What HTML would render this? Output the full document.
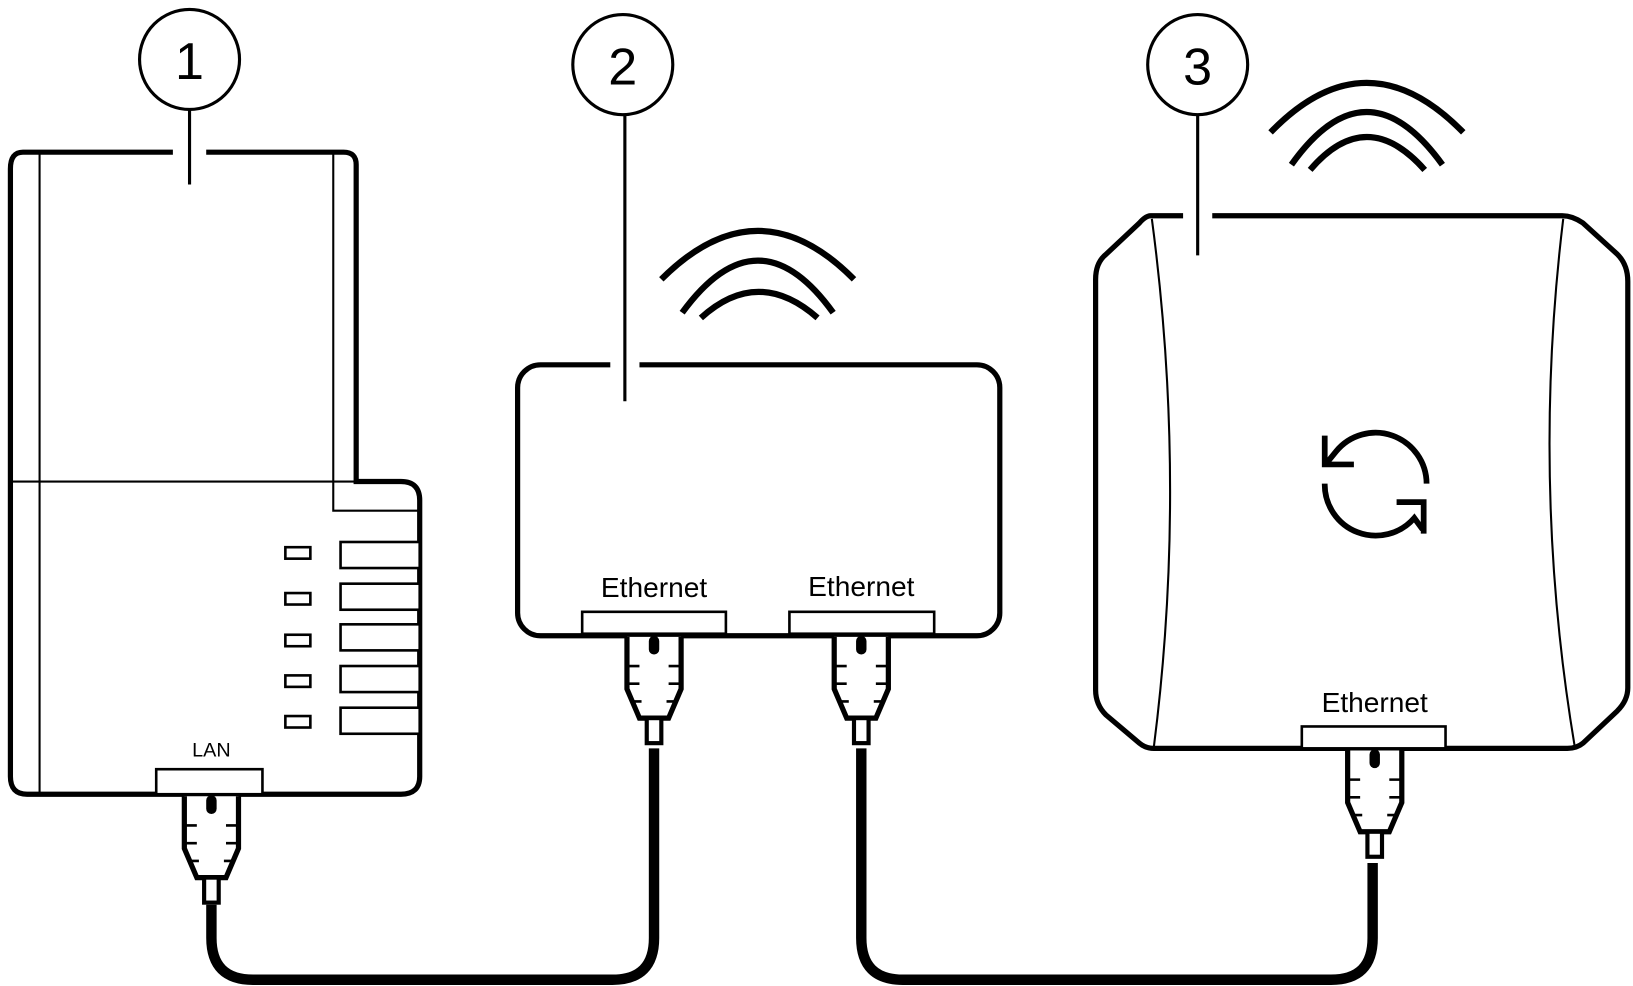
<!DOCTYPE html>
<html><head><meta charset="utf-8"><style>
html,body{margin:0;padding:0;background:#fff;}
svg{display:block;}
text{font-family:"Liberation Sans",sans-serif;fill:#000;}
</style></head><body>
<svg width="1633" height="986" viewBox="0 0 1568 946" preserveAspectRatio="none" xmlns="http://www.w3.org/2000/svg">
<defs>
<g id="plug" fill="none" stroke="#000">
  <path d="M-26 0 V50 L-14 78 H14 L26 50 V0" stroke-width="5" fill="#fff"/>
  <path d="M0 4 V12" stroke-width="10" stroke-linecap="round"/>
  <path d="M-26 28 H-14 M14 28 H26 M-26 45 H-14 M14 45 H26 M-22 62 H-12 M12 62 H22" stroke-width="2.5"/>
  <rect x="-7" y="78" width="14" height="24" stroke-width="4" fill="#fff"/>
</g>
</defs>
<rect width="1568" height="946" fill="#fff"/>

<!-- cables -->
<path d="M203 868 V900 Q203 940 243 940 H588 Q628 940 628 900 V718" fill="none" stroke="#000" stroke-width="10"/>
<path d="M827 718 V900 Q827 940 867 940 H1278 Q1318 940 1318 900 V828" fill="none" stroke="#000" stroke-width="10"/>

<!-- Device 1 -->
<path d="M22 146 H330 Q342 146 342 158 V462 H385 Q403 462 403 480 V745 Q403 762 385 762 H26 Q10 762 10 745 V162 Q10 146 22 146 Z" fill="#fff" stroke="#000" stroke-width="5"/>
<rect x="166" y="140" width="32" height="12" fill="#fff"/>
<path d="M38 148 V760 M320 148 V490 H401 M12 462 H342" stroke="#000" stroke-width="2" fill="none"/>
<g fill="#fff" stroke="#000" stroke-width="2.5">
<rect x="274" y="525" width="24" height="11"/><rect x="274" y="569" width="24" height="11"/>
<rect x="274" y="609" width="24" height="11"/><rect x="274" y="648" width="24" height="11"/>
<rect x="274" y="687" width="24" height="11"/>
<rect x="327" y="520" width="76" height="25"/><rect x="327" y="560" width="76" height="25"/>
<rect x="327" y="599" width="76" height="25"/><rect x="327" y="639" width="76" height="25"/>
<rect x="327" y="679" width="76" height="25"/>
<rect x="150" y="738" width="102" height="24"/>
</g>
<text x="203" y="726" font-size="19" text-anchor="middle">LAN</text>
<use href="#plug" x="203" y="764"/>
<circle cx="182" cy="57" r="48" fill="#fff" stroke="#000" stroke-width="3"/>
<text x="182" y="76" font-size="50" text-anchor="middle">1</text>
<path d="M182 105 V177" stroke="#000" stroke-width="3"/>

<!-- Device 2 -->
<rect x="497" y="350" width="463" height="260" rx="22" fill="#fff" stroke="#000" stroke-width="5"/>
<rect x="586" y="344" width="28" height="12" fill="#fff"/>
<path d="M600 110 V385" stroke="#000" stroke-width="3"/>
<circle cx="598" cy="62" r="48" fill="#fff" stroke="#000" stroke-width="3"/>
<text x="598" y="81" font-size="50" text-anchor="middle">2</text>
<g fill="#fff" stroke="#000" stroke-width="2.5">
<rect x="559" y="587" width="138" height="21"/><rect x="758" y="587" width="139" height="21"/>
</g>
<text x="628" y="573" font-size="27" text-anchor="middle">Ethernet</text>
<text x="827" y="572" font-size="27" text-anchor="middle">Ethernet</text>
<use href="#plug" x="628" y="611"/>
<use href="#plug" x="827" y="611"/>
<g fill="none" stroke="#000" stroke-width="6" stroke-linecap="butt">
<path d="M635 268 Q728 175 820 268"/>
<path d="M655 300 Q728 200 800 300"/>
<path d="M673 305 Q728 255 785 305"/>
</g>

<!-- Device 3 -->
<path d="M1105 207 H1500 Q1510 207 1520 214 L1553 244 Q1563 254 1563 270 V660 Q1563 672 1553 682 L1520 713 Q1514 718 1505 718 H1108 Q1100 718 1094 713 L1062 686 Q1052 676 1052 662 V268 Q1052 252 1062 244 L1094 214 Q1100 207 1105 207 Z" fill="#fff" stroke="#000" stroke-width="5"/>
<rect x="1136" y="200" width="28" height="14" fill="#fff"/>
<path d="M1150 110 V245" stroke="#000" stroke-width="3"/>
<circle cx="1150" cy="62" r="48" fill="#fff" stroke="#000" stroke-width="3"/>
<text x="1150" y="81" font-size="50" text-anchor="middle">3</text>
<path d="M1106 210 Q1140 465 1108 716 M1501 210 Q1470 465 1512 716" fill="none" stroke="#000" stroke-width="2"/>
<g fill="none" stroke="#000" stroke-width="6" stroke-linecap="butt">
<path d="M1220 127 Q1312 32 1405 127"/>
<path d="M1240 158 Q1312 57 1385 158"/>
<path d="M1258 163 Q1312 100 1368 163"/>
</g>
<!-- refresh icon -->
<g fill="none" stroke="#000" stroke-width="5.5">
<path d="M1274 444 L1283 433 A49 49 0 0 1 1369.8 464"/>
<path d="M1272 464 A49 49 0 0 0 1358 497 L1366 508"/>
<path d="M1272 418 V445.6 H1300"/>
<path d="M1367 512 V481.8 H1341"/>
</g>
<rect x="1250" y="697" width="138" height="21" fill="#fff" stroke="#000" stroke-width="2.5"/>
<text x="1320" y="683" font-size="27" text-anchor="middle">Ethernet</text>
<use href="#plug" x="1320" y="720"/>
</svg>
</body></html>
